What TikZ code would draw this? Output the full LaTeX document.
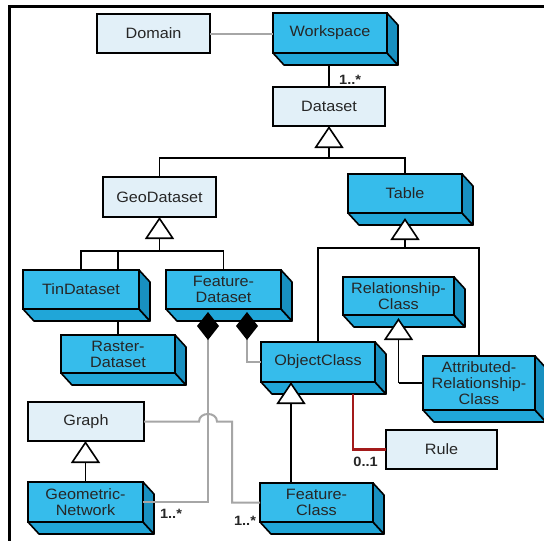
\documentclass[tikz,border=0pt]{standalone}
\usepackage{fontspec}
\setmainfont{Liberation Sans}[FakeStretch=1.08]
\usetikzlibrary{arrows.meta,calc}

\definecolor{paleface}{HTML}{E2F0F8}
\definecolor{frontblue}{HTML}{36BCEB}
\definecolor{bottomblue}{HTML}{20A6D8}
\definecolor{sideblue}{HTML}{1890C0}
\definecolor{linkgray}{HTML}{A6A6A6}
\definecolor{rulered}{HTML}{A31A1A}
\definecolor{inkgray}{HTML}{262626}

\pgfdeclarelayer{background}
\pgfsetlayers{background,main}

\tikzset{
  boxbase/.style={draw=black, line width=1.6pt, inner sep=0pt, outer sep=0pt,
    anchor=north west, align=center, text=inkgray,
    font=\fontsize{15}{16}\selectfont},
  flatbox/.style={boxbase, fill=paleface},
  solidfront/.style={boxbase, fill=frontblue},
  faceedge/.style={draw=black, line width=1.6pt, line join=round},
  link/.style={draw=black, line width=1.6pt},
  graylink/.style={draw=linkgray, line width=2pt},
  redlink/.style={draw=rulered, line width=2.6pt},
  genarrow/.style={link, -{Triangle[open, fill=white, length=22pt, width=29pt]}},
  aggregate/.style={graylink, {Diamond[length=28pt, width=22pt, fill=black, color=black]}-},
  mult/.style={font=\bfseries\fontsize{13.5}{14}\selectfont, text=inkgray, inner sep=0pt},
}

% flat class box: name, left, top, width, height, label
\newcommand\plainbox[6]{%
  \node[flatbox, minimum width=#4pt, minimum height=#5pt] (#1) at (#2,#3) {#6};}
% extruded class box: front face plus bottom and right faces
\newcommand\solidbox[6]{%
  \node[solidfront, minimum width=#4pt, minimum height=#5pt] (#1) at (#2,#3) {#6};
  \filldraw[faceedge, fill=bottomblue] (#1.south west) -- (#1.south east)
    -- ++(11,12) -- ++(-#4,0) -- cycle;
  \filldraw[faceedge, fill=sideblue] (#1.north east) -- ++(11,12)
    -- ++(0,#5) -- (#1.south east) -- cycle;}

\begin{document}
\begin{tikzpicture}[x=1pt, y=-1pt]
\useasboundingbox (0,0) rectangle (544,541);

% frame
\draw[line width=3pt] (9.5,541) -- (9.5,6) -- (544,6);

% classes
\plainbox{domain}{97}{14}{113}{39}{Domain}
\solidbox{workspace}{273}{13}{114}{40}{Workspace}
\plainbox{dataset}{273}{87}{112}{39}{Dataset}
\plainbox{geodata}{103}{177}{113}{40}{GeoDataset}
\solidbox{table}{348}{174}{114}{39}{Table}
\solidbox{raster}{61}{335}{114}{38}{Raster-\\Dataset}
\solidbox{tin}{23}{270}{116}{39}{TinDataset}
\solidbox{featds}{166}{270}{115}{39}{Feature-\\Dataset}
\solidbox{relclass}{343}{277}{111}{38}{Relationship-\\Class}
\solidbox{objclass}{261}{342}{114}{40}{ObjectClass}
\solidbox{attr}{423}{356}{112}{54}{Attributed-\\Relationship-\\Class}
\plainbox{graph}{28}{402}{116}{39}{Graph}
\solidbox{geonet}{28}{482}{115}{40}{Geometric-\\Network}
\solidbox{featclass}{260}{483}{113}{39}{Feature-\\Class}
\plainbox{rule}{386}{430}{111}{39}{Rule}

% connectors running behind boxes
\begin{pgfonlayer}{background}
  \fill[white] (0,0) rectangle (544,541);
  \draw[link] (dataset.north) -- (dataset.north |- workspace.south);
  \coordinate (j2) at ($(geodata.south)+(0,34)$);
  \draw[link] (raster.north) -- (raster.north |- j2);
\end{pgfonlayer}

% Workspace associations
\draw[graylink] (domain.east) -- (domain.east -| workspace.west);
\node[mult, anchor=west] (m1) at (339,80) {1..*};

% Dataset generalization
\coordinate (j1) at ($(dataset.south)+(0,32)$);
\draw[link] (geodata.north) |- (j1) -| (table.north);
\draw[genarrow] (j1) -- (dataset.south);

% GeoDataset generalization
\draw[link] (tin.north) |- (j2) -| (featds.north);
\draw[genarrow] (j2) -- (geodata.south);

% Table generalization
\coordinate (j3) at ($(table.south)+(0,35)$);
\draw[link] (objclass.north) |- (j3) -| (attr.north);
\draw[genarrow] (j3) -- ($(table.south)+(0,5)$);

% RelationshipClass generalization
\coordinate (j4) at ($(relclass.south)+(0,68)$);
\draw[link] (j4) -- (j4 -| attr.west);
\draw[genarrow] (j4) -- ($(relclass.south)+(0,3)$);

% ObjectClass generalization
\coordinate (j5) at ($(featclass.north west)+(31,0)$);
\draw[genarrow] (j5) -- (j5 |- objclass.south);

% Graph generalization
\draw[genarrow] (geonet.north) -- (geonet.north |- graph.south);

% FeatureDataset aggregations
\draw[aggregate] ($(featds.south west)+(42,3)$) |- (geonet.east);
\draw[aggregate] ($(featds.south west)+(81,3)$) |- (objclass.west);

% Graph association, hopping over the aggregation line
\coordinate (hopL) at ($(graph.east)+(55,0)$);
\coordinate (hopR) at ($(hopL)+(18,0)$);
\draw[graylink] (graph.east) -- (hopL)
  .. controls ($(hopL)+(0,-10)$) and ($(hopR)+(0,-10)$) .. (hopR)
  -- ($(hopR)+(15,0)$) |- (featclass.west);

% Rule association
\draw[redlink] (rule.west) -| ($(objclass.south)+(35,12)$);

% multiplicities
\node[mult, anchor=east] (m2) at (378,462) {0..1};
\node[mult] (m3) at (171,514) {1..*};
\node[mult] (m4) at (245,521) {1..*};
\end{tikzpicture}
\end{document}
